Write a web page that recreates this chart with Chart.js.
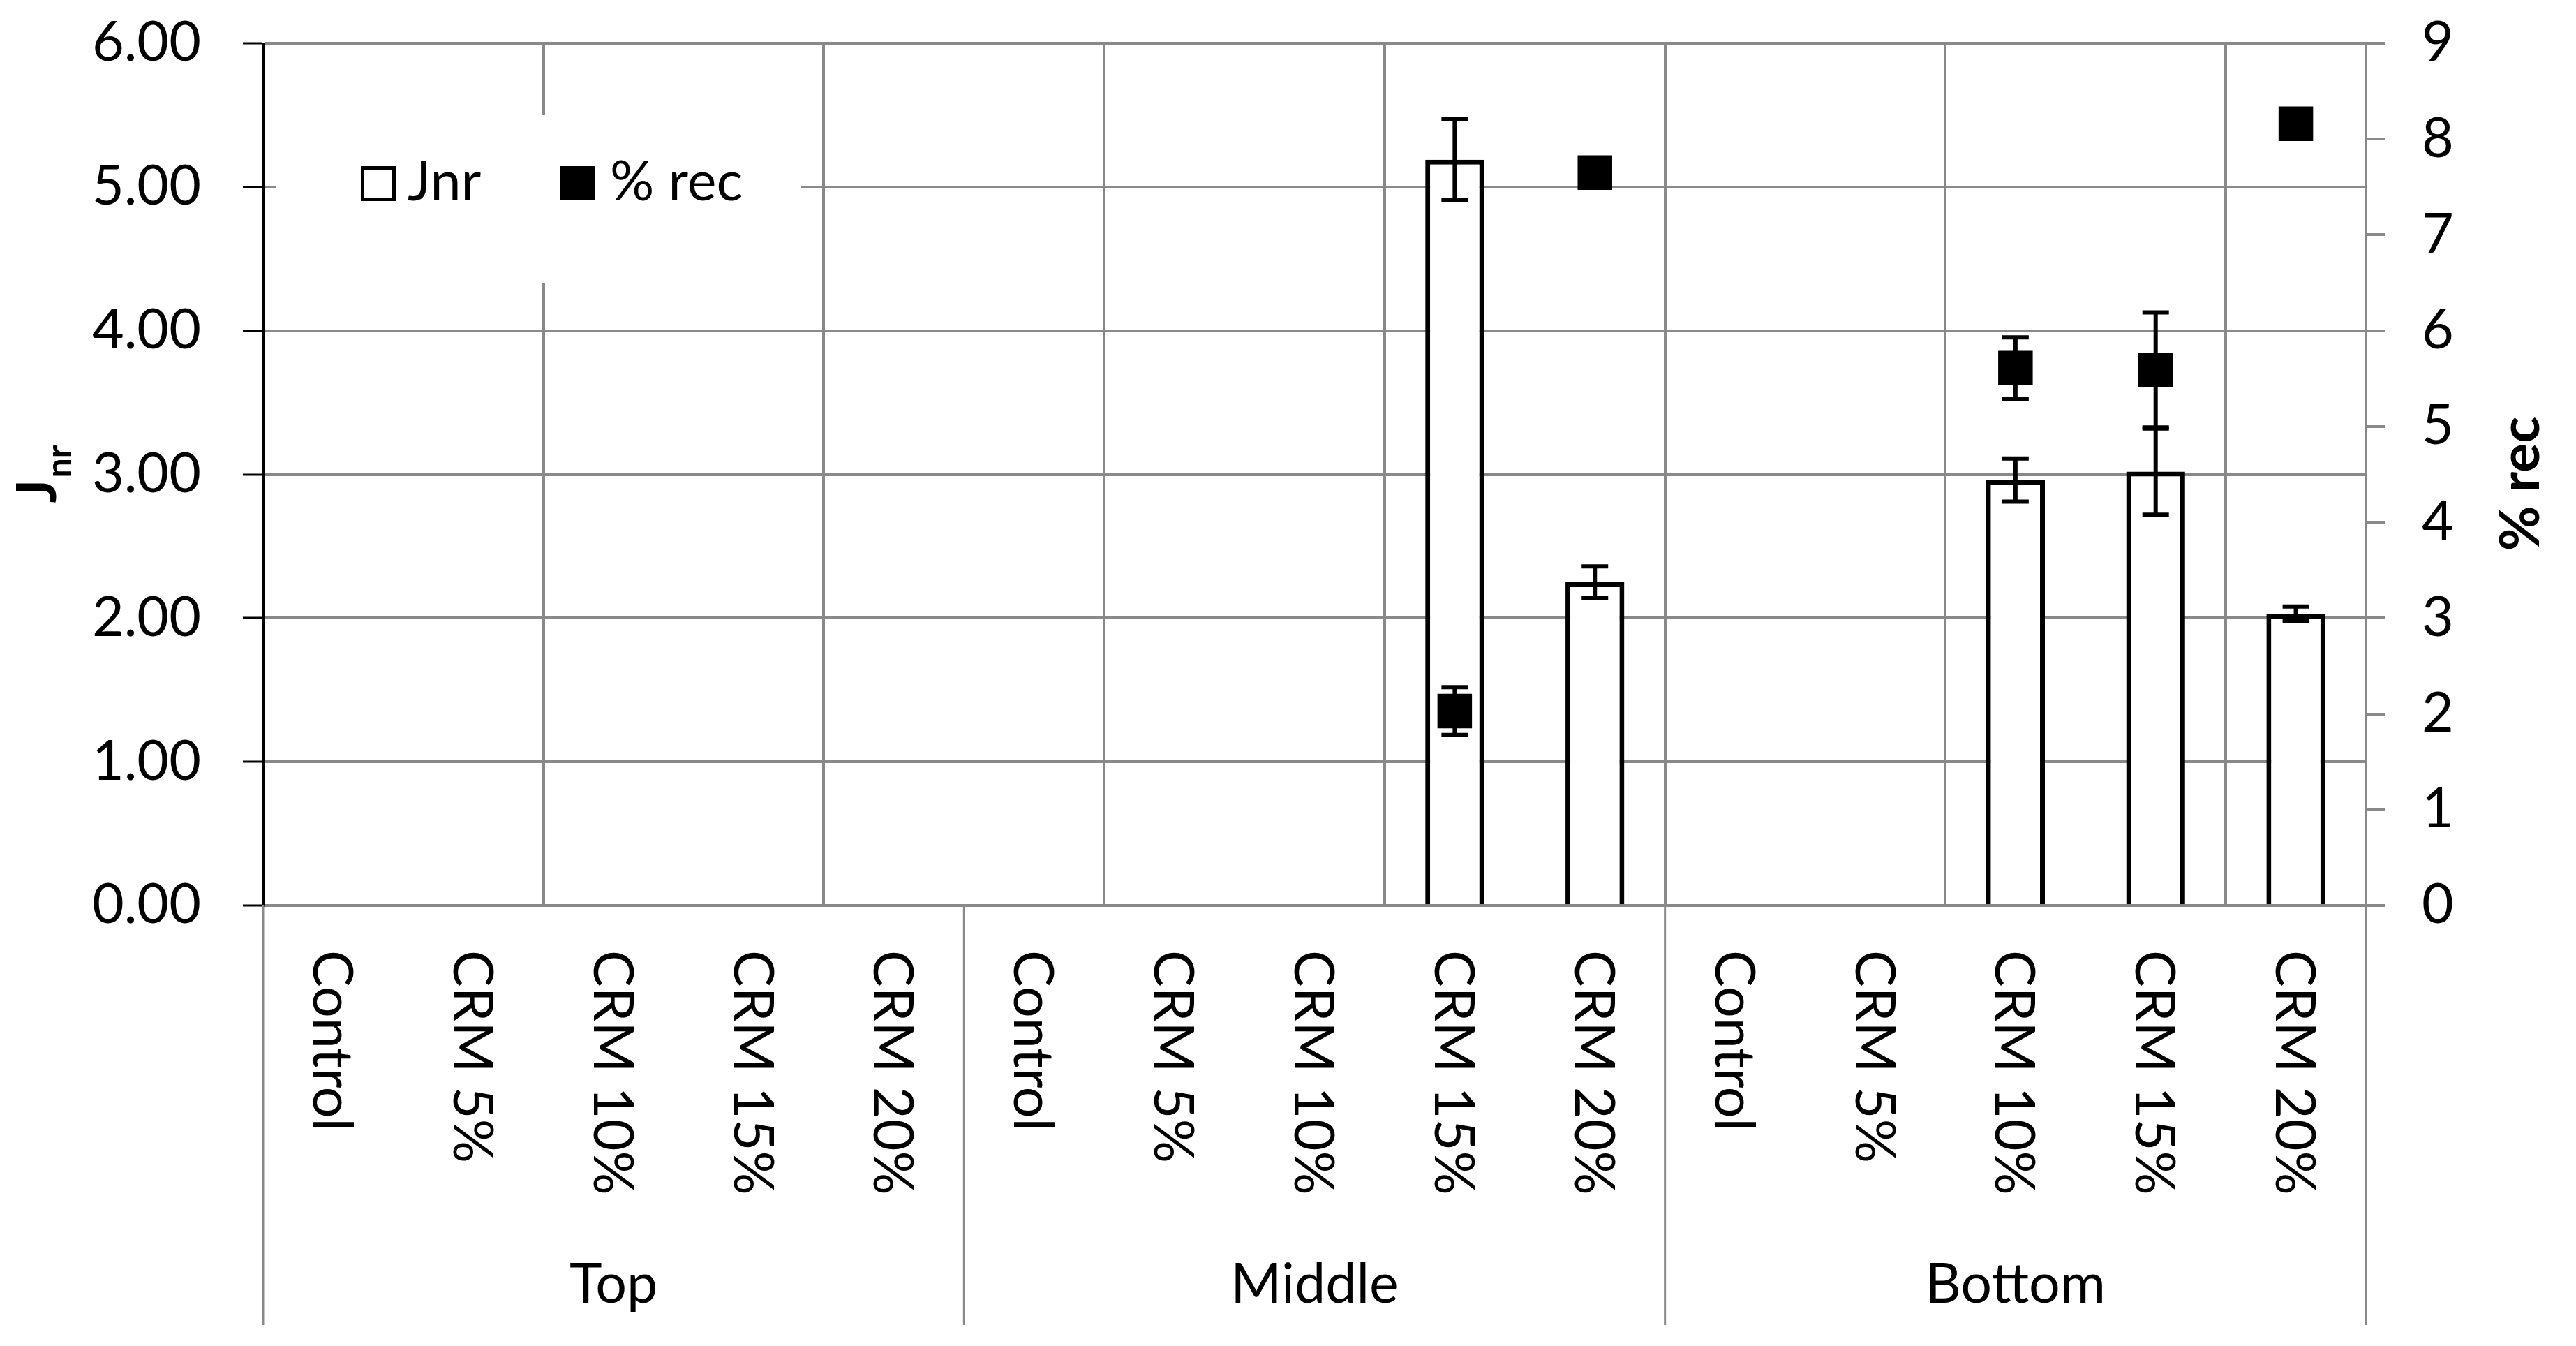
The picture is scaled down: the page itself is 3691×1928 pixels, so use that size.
<!DOCTYPE html>
<html>
<head>
<meta charset="utf-8">
<script src="https://cdn.jsdelivr.net/npm/chart.js@4.4.1/dist/chart.umd.min.js"></script>
<style>
	html, body { margin: 0; padding: 0; background: #fff; }
	#wrap { width: 3691px; height: 1928px; position: relative; }
</style>
</head>
<body>
<div id="wrap"><canvas id="jnrChart"></canvas></div>
<script>
const categories = [
	'Control', 'CRM 5%', 'CRM 10%', 'CRM 15%', 'CRM 20%',
	'Control', 'CRM 5%', 'CRM 10%', 'CRM 15%', 'CRM 20%',
	'Control', 'CRM 5%', 'CRM 10%', 'CRM 15%', 'CRM 20%',
];
const groups = ['Top', 'Middle', 'Bottom'];
const groupSize = 5;

const jnrValues = [null, null, null, null, null, null, null, null, 5.19, 2.25, null, null, 2.96, 3.02, 2.03];
const jnrErrors = [0, 0, 0, 0, 0, 0, 0, 0, 0.28, 0.11, 0, 0, 0.15, 0.30, 0.05];
const recValues = [null, null, null, null, null, null, null, null, 2.03, 7.65, null, null, 5.61, 5.59, 8.16];
const recErrors = [0, 0, 0, 0, 0, 0, 0, 0, 0.25, 0, 0, 0, 0.32, 0.60, 0];

const leftTicks = [0, 1, 2, 3, 4, 5, 6];
const rightTicks = [0, 1, 2, 3, 4, 5, 6, 7, 8, 9];

const GRID = '#898989';
const FONT = 'Lato';
const FS = 79;

// error bars, legend, two-level category labels and axis titles
const overlay = {
	id: 'overlay',
	afterDatasetsDraw(chart) {
		const ctx = chart.ctx;
		const x = chart.scales.x;
		const pairs = [
			[jnrValues, jnrErrors, chart.scales.y],
			[recValues, recErrors, chart.scales.y1],
		];
		ctx.save();
		ctx.strokeStyle = '#000';
		ctx.lineWidth = 6;
		pairs.forEach(([vals, errs, scale]) => {
			vals.forEach((v, i) => {
				if (v === null || !errs[i]) return;
				const px = x.getPixelForValue(i);
				const top = scale.getPixelForValue(v + errs[i]);
				const bot = scale.getPixelForValue(v - errs[i]);
				ctx.beginPath();
				ctx.moveTo(px, top);
				ctx.lineTo(px, bot);
				ctx.moveTo(px - 19, top);
				ctx.lineTo(px + 19, top);
				ctx.moveTo(px - 19, bot);
				ctx.lineTo(px + 19, bot);
				ctx.stroke();
			});
		});
		ctx.restore();
	},
	afterDraw(chart) {
		const ctx = chart.ctx;
		const x = chart.scales.x;
		const area = chart.chartArea;
		const step = x.getPixelForValue(1) - x.getPixelForValue(0);
		ctx.save();

		// legend box
		ctx.fillStyle = '#fff';
		ctx.fillRect(395, 165, 752, 240);
		ctx.strokeStyle = '#000';
		ctx.lineWidth = 5;
		ctx.strokeRect(519.5, 240.5, 45, 45);
		ctx.fillStyle = '#000';
		ctx.fillRect(803, 238, 49, 49);
		ctx.font = FS + 'px ' + FONT;
		ctx.textBaseline = 'alphabetic';
		ctx.textAlign = 'left';
		ctx.fillText('Jnr', 584, 287);
		ctx.fillText('% rec', 874, 287);

		// group separators under the axis
		ctx.strokeStyle = GRID;
		ctx.lineWidth = 3;
		for (let g = 0; g <= groups.length; g++) {
			const bx = x.getPixelForValue(g * groupSize) - step / 2;
			ctx.beginPath();
			ctx.moveTo(bx, area.bottom);
			ctx.lineTo(bx, 1898);
			ctx.stroke();
		}

		// rotated category labels
		ctx.fillStyle = '#000';
		ctx.font = FS + 'px ' + FONT;
		categories.forEach((label, i) => {
			const px = x.getPixelForValue(i);
			ctx.save();
			ctx.translate(px, 1361);
			ctx.rotate(Math.PI / 2);
			ctx.textAlign = 'left';
			ctx.textBaseline = 'alphabetic';
			ctx.fillText(label, 0, FS * 0.36);
			ctx.restore();
		});

		// group labels
		ctx.textAlign = 'center';
		groups.forEach((label, g) => {
			const c = (x.getPixelForValue(g * groupSize) + x.getPixelForValue(g * groupSize + groupSize - 1)) / 2;
			ctx.fillText(label, c, 1866);
		});

		// left title J with subscript nr
		ctx.save();
		ctx.translate(80, 680);
		ctx.rotate(-Math.PI / 2);
		ctx.textAlign = 'left';
		ctx.font = 'bold ' + FS + 'px ' + FONT;
		const wJ = ctx.measureText('J').width;
		ctx.font = 'bold 50px ' + FONT;
		const wSub = ctx.measureText('nr').width;
		const start = -(wJ + wSub) / 2;
		ctx.font = 'bold ' + FS + 'px ' + FONT;
		ctx.fillText('J', start, 0);
		ctx.font = 'bold 50px ' + FONT;
		ctx.fillText('nr', start + wJ + 2, 22);
		ctx.restore();

		// right title
		ctx.save();
		ctx.translate(3638, 693);
		ctx.rotate(-Math.PI / 2);
		ctx.textAlign = 'center';
		ctx.textBaseline = 'alphabetic';
		ctx.font = 'bold ' + FS + 'px ' + FONT;
		ctx.fillText('% rec', 0, 0);
		ctx.restore();

		ctx.restore();
	},
};

function noScalePadding(s) {
	s.paddingTop = 0;
	s.paddingBottom = 0;
	s.paddingLeft = 0;
	s.paddingRight = 0;
}

function buildChart() {
	const ctx = document.getElementById('jnrChart').getContext('2d');
	new Chart(ctx, {
		data: {
			labels: categories,
			datasets: [
				{
					type: 'line',
					label: '% rec',
					data: recValues,
					yAxisID: 'y1',
					showLine: false,
					pointStyle: 'rect',
					pointRadius: 35,
					pointHoverRadius: 35,
					pointBorderWidth: 0,
					pointBackgroundColor: '#000',
					borderColor: '#000',
					order: 1,
				},
				{
					type: 'bar',
					label: 'Jnr',
					data: jnrValues,
					yAxisID: 'y',
					backgroundColor: '#fff',
					borderColor: '#000',
					borderWidth: 7,
					barPercentage: 0.42,
					categoryPercentage: 1,
					order: 2,
				},
			],
		},
		options: {
			responsive: true,
			maintainAspectRatio: false,
			animation: false,
			events: [],
			layout: { padding: { top: 62, left: 0, right: 0, bottom: 0 } },
			plugins: {
				legend: { display: false },
				tooltip: { enabled: false },
			},
			scales: {
				x: {
					type: 'category',
					offset: true,
					ticks: { display: false },
					grid: {
						offset: true,
						drawTicks: false,
						lineWidth: 4,
						color: (c) => (c.index % 2 === 0 ? GRID : 'rgba(0,0,0,0)'),
					},
					border: { color: GRID, width: 4 },
					afterFit: (s) => { noScalePadding(s); s.height = 631; },
				},
				y: {
					position: 'left',
					min: 0,
					max: 6,
					afterBuildTicks: (s) => { s.ticks = leftTicks.map((v) => ({ value: v })); },
					ticks: {
						callback: (v) => Number(v).toFixed(2),
						color: '#000',
						padding: 60,
						font: { family: FONT, size: FS },
					},
					grid: { color: GRID, lineWidth: 4, tickColor: '#000', tickLength: 29, tickWidth: 3 },
					border: { color: '#000', width: 3 },
					afterFit: (s) => { noScalePadding(s); s.width = 377; },
				},
				y1: {
					position: 'right',
					min: 0,
					max: 9,
					afterBuildTicks: (s) => { s.ticks = rightTicks.map((v) => ({ value: v })); },
					ticks: {
						color: '#000',
						padding: 53,
						font: { family: FONT, size: FS },
					},
					grid: { drawOnChartArea: false, color: GRID, lineWidth: 4, tickLength: 27 },
					border: { color: GRID, width: 4 },
					afterFit: (s) => { noScalePadding(s); s.width = 301; },
				},
			},
		},
		plugins: [overlay],
	});
}

Promise.all([
	document.fonts.load(FS + 'px ' + FONT),
	document.fonts.load('bold ' + FS + 'px ' + FONT),
]).then(buildChart, buildChart);
</script>
</body>
</html>
